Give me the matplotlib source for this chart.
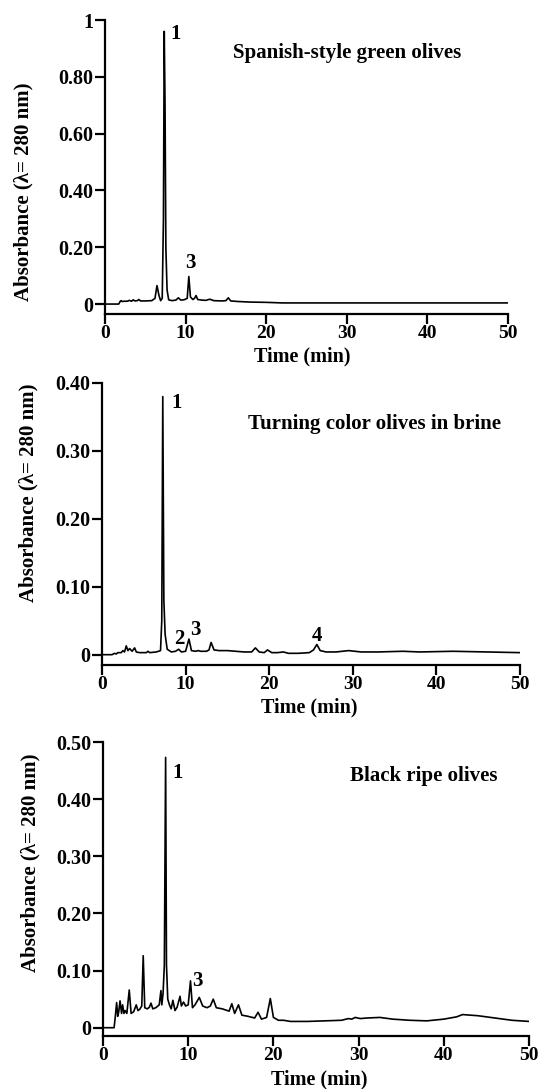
import matplotlib
matplotlib.use("Agg")
import matplotlib.pyplot as plt

plt.rcParams['font.family'] = ['Liberation Serif', 'DejaVu Serif']
plt.rcParams['font.weight'] = 'bold'

# ---------------- data ----------------
# Panel 1: Spanish-style green olives
t1 = [0, 1.7, 1.9, 2.0, 2.1, 2.4, 2.8, 3.0, 3.3, 3.5, 3.7, 4.0, 4.2, 4.4, 5.0, 5.8, 6.2, 6.45, 6.7, 6.9,
      7.1, 7.25, 7.35, 7.45, 7.55, 7.7, 7.9, 8.3, 8.8, 9.1, 9.4, 9.8, 10.2, 10.4, 10.6, 10.9, 11.1, 11.3, 11.5, 12.0,
      12.5, 13.0, 13.5, 14.5, 15.0, 15.3, 15.6, 16.5, 18, 20, 22, 25, 30, 35, 40, 45, 50]
a1 = [0, 0, 0.01, 0.012, 0.009, 0.01, 0.01, 0.013, 0.01, 0.015, 0.011, 0.012, 0.016, 0.011, 0.011, 0.012, 0.02, 0.065, 0.03, 0.012,
      0.02, 0.3, 0.96, 0.70, 0.2, 0.05, 0.015, 0.012, 0.014, 0.022, 0.014, 0.015, 0.02, 0.097, 0.025, 0.016, 0.02, 0.03, 0.016, 0.014,
      0.013, 0.017, 0.012, 0.011, 0.012, 0.022, 0.011, 0.009, 0.007, 0.006, 0.004, 0.004, 0.004, 0.004, 0.004, 0.004, 0.004]

# Panel 2: Turning color olives in brine
t2 = [0, 1.2, 1.5, 1.7, 1.9, 2.3, 2.5, 2.7, 2.9, 3.1, 3.3, 3.6, 3.9, 4.1, 4.5, 5.3, 5.5, 5.7, 6.5, 7.0,
      7.15, 7.27, 7.4, 7.55, 7.8, 8.3, 8.8, 9.16, 9.5, 10.0, 10.4, 10.7, 11.2, 11.5, 11.8, 12.5, 12.8, 13.05, 13.4, 14.0,
      15, 16, 17, 17.9, 18.35, 18.8, 19.4, 19.8, 20.3, 21, 21.7, 22.3, 23.5, 24.8, 25.3, 25.7, 26.1, 26.8, 28, 29.5,
      31, 33, 36, 38, 42, 46, 50]
a2 = [0, 0, 0.002, 0.001, 0.003, 0.003, 0.006, 0.004, 0.013, 0.006, 0.009, 0.005, 0.01, 0.004, 0.003, 0.003, 0.005, 0.003, 0.004, 0.006,
      0.05, 0.38, 0.08, 0.03, 0.008, 0.004, 0.005, 0.008, 0.004, 0.005, 0.023, 0.006, 0.005, 0.006, 0.005, 0.005, 0.007, 0.018, 0.007, 0.006,
      0.006, 0.005, 0.004, 0.004, 0.01, 0.004, 0.003, 0.007, 0.003, 0.003, 0.004, 0.002, 0.002, 0.003, 0.007, 0.015, 0.006, 0.004, 0.004, 0.006,
      0.004, 0.004, 0.005, 0.004, 0.005, 0.004, 0.003]

# Panel 3: Black ripe olives
t3 = [0, 1.3, 1.45, 1.6, 1.73, 1.85, 2.0, 2.18, 2.3, 2.46, 2.6, 2.8, 3.08, 3.3, 3.6, 3.9, 4.1, 4.3, 4.55, 4.72,
      4.9, 5.2, 5.45, 5.63, 5.85, 6.2, 6.6, 6.8, 6.9, 7.05, 7.2, 7.35, 7.45, 7.6, 7.8, 8.0, 8.2, 8.45, 8.7, 9.04,
      9.2, 9.45, 9.7, 10.0, 10.27, 10.5, 10.8, 11.3, 11.7, 12.2, 12.6, 12.94, 13.3, 14.0, 14.8, 15.12, 15.45, 15.9, 16.3, 17.0,
      17.8, 18.2, 18.6, 19.2, 19.64, 20.0, 20.6, 21.2, 22, 24, 26, 28, 28.8, 29.2, 29.6, 30.2, 31, 32.5, 34, 36,
      38, 40, 41.5, 42.2, 44, 46, 48, 50]
a3 = [0, 0, 0.02, 0.044, 0.02, 0.028, 0.047, 0.025, 0.04, 0.025, 0.03, 0.025, 0.066, 0.025, 0.028, 0.04, 0.03, 0.032, 0.038, 0.126,
      0.035, 0.033, 0.036, 0.043, 0.033, 0.035, 0.04, 0.065, 0.04, 0.06, 0.11, 0.473, 0.11, 0.05, 0.04, 0.033, 0.048, 0.03, 0.036, 0.055,
      0.038, 0.045, 0.038, 0.04, 0.082, 0.035, 0.04, 0.053, 0.038, 0.035, 0.038, 0.05, 0.035, 0.033, 0.029, 0.042, 0.025, 0.04, 0.022, 0.02,
      0.017, 0.027, 0.015, 0.018, 0.051, 0.018, 0.013, 0.013, 0.011, 0.011, 0.012, 0.013, 0.016, 0.015, 0.018, 0.016, 0.017, 0.018, 0.015, 0.013,
      0.012, 0.015, 0.019, 0.023, 0.021, 0.017, 0.013, 0.011]

titles = ["Spanish-style green olives", "Turning color olives in brine", "Black ripe olives"]
x_ticks = [0, 10, 20, 30, 40, 50]
y_ticks = [[0, 0.2, 0.4, 0.6, 0.8, 1.0], [0, 0.1, 0.2, 0.3, 0.4], [0, 0.1, 0.2, 0.3, 0.4, 0.5]]
y_ticklabels = [["0", "0.20", "0.40", "0.60", "0.80", "1"],
                ["0", "0.10", "0.20", "0.30", "0.40"],
                ["0", "0.10", "0.20", "0.30", "0.40", "0.50"]]
peak_labels = [[("1", 8.7, 0.95), ("3", 10.6, 0.143)],
               [("1", 8.9, 0.371), ("2", 9.2, 0.023), ("3", 11.2, 0.037), ("4", 25.7, 0.027)],
               [("1", 8.8, 0.446), ("3", 11.1, 0.082)]]
title_pos = [(30.1, 0.885), (32.6, 0.339), (37.7, 0.44)]

# ---------------- layout (pixels) ----------------
W, H = 549, 1089
fig = plt.figure(figsize=(W / 100, H / 100), dpi=100)

# left, right, top, bottom in pixels; ylim bottom
boxes = [(105, 508, 20, 314, -0.035),
         (102, 520, 383, 665, -0.0152),
         (103, 529, 742, 1036, -0.0145)]
ylab_px = [(23, 192), (28, 493), (30, 863)]
xlab_px = [(302, 356), (309, 707), (319, 1079)]

series = [(t1, a1), (t2, a2), (t3, a3)]
for i, ((l, r, tp, b, ylo), (t, a)) in enumerate(zip(boxes, series)):
    ax = fig.add_axes([l / W, 1 - b / H, (r - l) / W, (b - tp) / H])
    ax.plot(t, a, color='black', lw=1.2)
    ax.set_xlim(0, 50)
    ax.set_ylim(ylo, y_ticks[i][-1])
    ax.spines['top'].set_visible(False)
    ax.spines['right'].set_visible(False)
    for s in ('left', 'bottom'):
        ax.spines[s].set_linewidth(1.6)
    ax.set_xticks(x_ticks)
    ax.set_xticklabels([str(v) for v in x_ticks])
    ax.set_yticks(y_ticks[i])
    ax.set_yticklabels(y_ticklabels[i])
    ax.tick_params(direction='out', length=7, width=1.6, labelsize=14.5, pad=1.5)
    ax.tick_params(axis='x', labelsize=14, pad=1)
    for lab in ax.get_xticklabels() + ax.get_yticklabels():
        lab.set_fontweight('bold')
    for txt, x, y in peak_labels[i]:
        ax.text(x, y, txt, fontsize=15, fontweight='bold', ha='center', va='center')
    ax.text(title_pos[i][0], title_pos[i][1], titles[i], fontsize=15, fontweight='bold',
            ha='center', va='center')
    fig.text(ylab_px[i][0] / W, 1 - ylab_px[i][1] / H, "Absorbance (λ= 280 nm)", rotation=90,
             fontsize=15, fontweight='bold', ha='center', va='center')
    fig.text(xlab_px[i][0] / W, 1 - xlab_px[i][1] / H, "Time (min)",
             fontsize=14.5, fontweight='bold', ha='center', va='center')

fig.savefig("out.png", dpi=100)
